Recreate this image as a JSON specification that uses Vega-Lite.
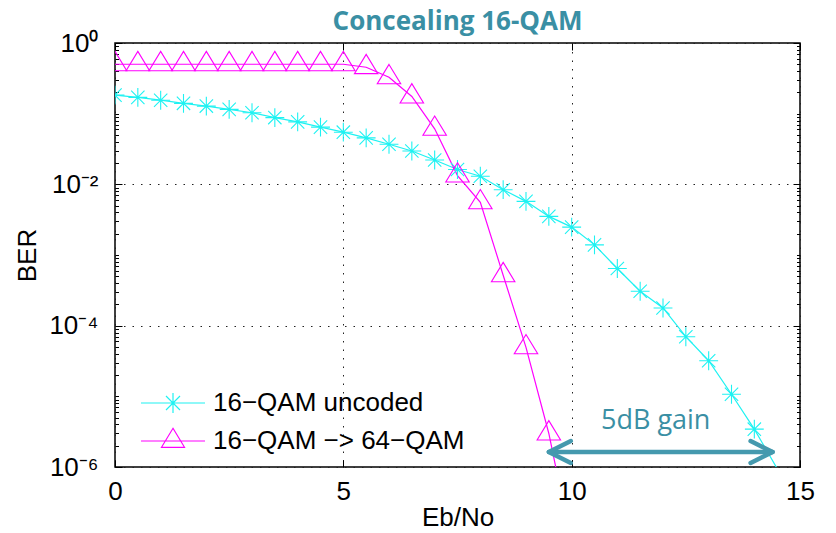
{
  "$schema": "https://vega.github.io/schema/vega-lite/v6.json",
  "width": 685,
  "height": 424,
  "autosize": {"type": "none"},
  "padding": {"left": 115, "top": 43, "right": 36, "bottom": 66},
  "background": "white",
  "title": {"text": "Concealing 16-QAM", "font": "Open Sans", "fontWeight": "bold", "fontSize": 26, "color": "#3a8fa4", "anchor": "middle", "offset": -5},
  "config": {
    "view": {"stroke": "black", "strokeWidth": 1.5},
    "font": "Liberation Sans",
    "legend": {"orient": "none", "legendX": 45, "legendY": 347, "padding": 0, "rowPadding": 9, "labelFont": "Liberation Sans", "labelFontSize": 26, "labelColor": "black", "labelOffset": 27, "labelLimit": 500, "symbolSize": 400, "symbolStrokeWidth": 1.2}
  },
  "datasets": {
    "ber": [
      {"ebno": 0, "ber": 0.183, "series": "16−QAM uncoded"},
      {"ebno": 0.5, "ber": 0.170, "series": "16−QAM uncoded"},
      {"ebno": 1, "ber": 0.155, "series": "16−QAM uncoded"},
      {"ebno": 1.5, "ber": 0.140, "series": "16−QAM uncoded"},
      {"ebno": 2, "ber": 0.128, "series": "16−QAM uncoded"},
      {"ebno": 2.5, "ber": 0.115, "series": "16−QAM uncoded"},
      {"ebno": 3, "ber": 0.103, "series": "16−QAM uncoded"},
      {"ebno": 3.5, "ber": 0.088, "series": "16−QAM uncoded"},
      {"ebno": 4, "ber": 0.0765, "series": "16−QAM uncoded"},
      {"ebno": 4.5, "ber": 0.0645, "series": "16−QAM uncoded"},
      {"ebno": 5, "ber": 0.0547, "series": "16−QAM uncoded"},
      {"ebno": 5.5, "ber": 0.0454, "series": "16−QAM uncoded"},
      {"ebno": 6, "ber": 0.0369, "series": "16−QAM uncoded"},
      {"ebno": 6.5, "ber": 0.0296, "series": "16−QAM uncoded"},
      {"ebno": 7, "ber": 0.0221, "series": "16−QAM uncoded"},
      {"ebno": 7.5, "ber": 0.0162, "series": "16−QAM uncoded"},
      {"ebno": 8, "ber": 0.0130, "series": "16−QAM uncoded"},
      {"ebno": 8.5, "ber": 0.0084, "series": "16−QAM uncoded"},
      {"ebno": 9, "ber": 0.00574, "series": "16−QAM uncoded"},
      {"ebno": 9.5, "ber": 0.00352, "series": "16−QAM uncoded"},
      {"ebno": 10, "ber": 0.00248, "series": "16−QAM uncoded"},
      {"ebno": 10.5, "ber": 0.00139, "series": "16−QAM uncoded"},
      {"ebno": 11, "ber": 0.000644, "series": "16−QAM uncoded"},
      {"ebno": 11.5, "ber": 0.000307, "series": "16−QAM uncoded"},
      {"ebno": 12, "ber": 0.000178, "series": "16−QAM uncoded"},
      {"ebno": 12.5, "ber": 0.0000698, "series": "16−QAM uncoded"},
      {"ebno": 13, "ber": 0.0000319, "series": "16−QAM uncoded"},
      {"ebno": 13.5, "ber": 0.0000107, "series": "16−QAM uncoded"},
      {"ebno": 14, "ber": 0.00000343, "series": "16−QAM uncoded"},
      {"ebno": 14.5, "ber": 0.00000095, "series": "16−QAM uncoded"},
      {"ebno": 0, "ber": 0.5, "series": "16−QAM −> 64−QAM"},
      {"ebno": 0.5, "ber": 0.5, "series": "16−QAM −> 64−QAM"},
      {"ebno": 1, "ber": 0.5, "series": "16−QAM −> 64−QAM"},
      {"ebno": 1.5, "ber": 0.5, "series": "16−QAM −> 64−QAM"},
      {"ebno": 2, "ber": 0.5, "series": "16−QAM −> 64−QAM"},
      {"ebno": 2.5, "ber": 0.5, "series": "16−QAM −> 64−QAM"},
      {"ebno": 3, "ber": 0.5, "series": "16−QAM −> 64−QAM"},
      {"ebno": 3.5, "ber": 0.5, "series": "16−QAM −> 64−QAM"},
      {"ebno": 4, "ber": 0.5, "series": "16−QAM −> 64−QAM"},
      {"ebno": 4.5, "ber": 0.5, "series": "16−QAM −> 64−QAM"},
      {"ebno": 5, "ber": 0.5, "series": "16−QAM −> 64−QAM"},
      {"ebno": 5.5, "ber": 0.454, "series": "16−QAM −> 64−QAM"},
      {"ebno": 6, "ber": 0.327, "series": "16−QAM −> 64−QAM"},
      {"ebno": 6.5, "ber": 0.175, "series": "16−QAM −> 64−QAM"},
      {"ebno": 7, "ber": 0.061, "series": "16−QAM −> 64−QAM"},
      {"ebno": 7.5, "ber": 0.0133, "series": "16−QAM −> 64−QAM"},
      {"ebno": 8, "ber": 0.00556, "series": "16−QAM −> 64−QAM"},
      {"ebno": 8.5, "ber": 0.000517, "series": "16−QAM −> 64−QAM"},
      {"ebno": 9, "ber": 0.0000493, "series": "16−QAM −> 64−QAM"},
      {"ebno": 9.5, "ber": 0.00000298, "series": "16−QAM −> 64−QAM"},
      {"ebno": 10, "ber": 0.00000008, "series": "16−QAM −> 64−QAM"}
    ],
    "arrow": [
      {"ebno": 9.5, "ber": 0.00000163, "end": "left"},
      {"ebno": 14.4, "ber": 0.00000163, "end": "right"}
    ],
    "note": [
      {"ebno": 11.84, "ber": 0.00000449, "label": "5dB gain"}
    ]
  },
  "layer": [
    {
      "data": {"name": "ber"},
      "mark": {"type": "line", "clip": true, "strokeWidth": 1.2},
      "encoding": {
        "x": {"field": "ebno", "type": "quantitative",
          "scale": {"domain": [0, 15], "nice": false, "zero": false},
          "axis": {"orient": "bottom", "values": [0, 5, 10, 15], "format": "d", "title": "Eb/No",
            "titleFont": "Liberation Sans", "titleFontSize": 26, "titleFontWeight": "normal", "titleColor": "black", "titlePadding": 0,
            "labelFont": "Liberation Sans", "labelFontSize": 26, "labelColor": "black", "labelPadding": 18, "labelFlush": false, "labelOverlap": false,
            "tickSize": -7, "tickColor": "black", "tickWidth": 1, "domain": false,
            "grid": true, "gridColor": "#222222", "gridDash": [1.5, 7], "gridWidth": 1, "gridOpacity": 1}},
        "y": {"field": "ber", "type": "quantitative",
          "scale": {"type": "log", "domain": [0.000001, 1], "nice": false},
          "axis": {"orient": "left", "values": [1, 0.01, 0.0001, 0.000001],
            "labelExpr": "datum.value == 1 ? '10⁰' : datum.value == 0.01 ? '10⁻²' : datum.value == 0.0001 ? '10⁻⁴' : datum.value == 0.000001 ? '10⁻⁶' : ''",
            "title": "BER", "titleFont": "Liberation Sans", "titleFontSize": 26, "titleFontWeight": "normal", "titleColor": "black", "titlePadding": 8,
            "labelFont": "Liberation Sans", "labelFontSize": 26, "labelColor": "black", "labelPadding": 24, "labelOverlap": false, "labelFlush": false,
            "tickSize": -7, "tickColor": "black", "tickWidth": 1, "domain": false,
            "grid": true, "gridColor": "#222222", "gridDash": [1.5, 7], "gridWidth": 1, "gridOpacity": 1}},
        "color": {"field": "series", "type": "nominal",
          "scale": {"domain": ["16−QAM uncoded", "16−QAM −> 64−QAM"], "range": ["#1ef2f2", "#ff00ff"]}, "legend": null}
      }
    },
    {
      "data": {"name": "ber"},
      "transform": [{"filter": "datum.ber >= 0.000001"}],
      "mark": {"type": "point", "filled": false, "clip": true, "strokeWidth": 1.1, "size": 529, "opacity": 1},
      "encoding": {
        "x": {"field": "ebno", "type": "quantitative",
          "axis": {"orient": "top", "values": [0, 5, 10, 15], "labels": false, "title": null, "tickSize": -7, "tickColor": "black", "domain": false, "grid": false}},
        "y": {"field": "ber", "type": "quantitative",
          "axis": {"orient": "right", "values": [1, 0.01, 0.0001, 0.000001], "labels": false, "title": null, "tickSize": -7, "tickColor": "black", "domain": false, "grid": false}},
        "color": {"field": "series", "type": "nominal",
          "scale": {"domain": ["16−QAM uncoded", "16−QAM −> 64−QAM"], "range": ["#1ef2f2", "#ff00ff"]}, "legend": null},
        "shape": {"field": "series", "type": "nominal",
          "scale": {"domain": ["16−QAM uncoded", "16−QAM −> 64−QAM"],
            "range": ["M-0.82,0L0.82,0M0,-0.82L0,0.82M-0.58,-0.58L0.58,0.58M-0.58,0.58L0.58,-0.58", "M0,-1.12L1.02,0.56L-1.02,0.56Z"]},
          "legend": null}
      }
    },
    {
      "data": {"name": "ber"},
      "transform": [{"filter": "false"}],
      "mark": {"type": "point", "filled": false, "strokeWidth": 1.2, "opacity": 1},
      "encoding": {
        "shape": {"field": "series", "type": "nominal",
          "scale": {"domain": ["16−QAM uncoded", "16−QAM −> 64−QAM"],
            "range": ["M-3.2,0L3.2,0M0,-1L0,1M-0.7,-0.7L0.7,0.7M-0.7,0.7L0.7,-0.7", "M-3.2,0L3.2,0M0,-1.27L1.15,0.63L-1.15,0.63Z"]},
          "legend": {"title": null}},
        "color": {"field": "series", "type": "nominal",
          "scale": {"domain": ["16−QAM uncoded", "16−QAM −> 64−QAM"], "range": ["#1ef2f2", "#ff00ff"]},
          "legend": {"title": null}}
      }
    },
    {
      "data": {"name": "arrow"},
      "mark": {"type": "line", "color": "#4599ae", "strokeWidth": 4.5, "strokeCap": "round"},
      "encoding": {
        "x": {"field": "ebno", "type": "quantitative", "axis": null},
        "y": {"field": "ber", "type": "quantitative",
          "axis": {"orient": "left", "values": [0.9,0.8,0.7,0.6,0.5,0.4,0.3,0.2,0.1,0.09,0.08,0.07,0.06,0.05,0.04,0.03,0.02,0.009,0.008,0.007,0.006,0.005,0.004,0.003,0.002,0.001,0.0009,0.0008,0.0007,0.0006,0.0005,0.0004,0.0003,0.0002,0.00009,0.00008,0.00007,0.00006,0.00005,0.00004,0.00003,0.00002,0.00001,0.000009,0.000008,0.000007,0.000006,0.000005,0.000004,0.000003,0.000002],
            "labels": false, "title": null, "tickSize": -3.5, "tickColor": "black", "domain": false, "grid": false}}
      }
    },
    {
      "data": {"name": "arrow"},
      "mark": {"type": "point", "filled": false, "color": "#4599ae", "strokeWidth": 4.5, "strokeCap": "round", "strokeJoin": "round", "size": 484, "opacity": 1},
      "encoding": {
        "x": {"field": "ebno", "type": "quantitative", "axis": null},
        "y": {"field": "ber", "type": "quantitative",
          "axis": {"orient": "right", "values": [0.9,0.8,0.7,0.6,0.5,0.4,0.3,0.2,0.1,0.09,0.08,0.07,0.06,0.05,0.04,0.03,0.02,0.009,0.008,0.007,0.006,0.005,0.004,0.003,0.002,0.001,0.0009,0.0008,0.0007,0.0006,0.0005,0.0004,0.0003,0.0002,0.00009,0.00008,0.00007,0.00006,0.00005,0.00004,0.00003,0.00002,0.00001,0.000009,0.000008,0.000007,0.000006,0.000005,0.000004,0.000003,0.000002],
            "labels": false, "title": null, "tickSize": -3.5, "tickColor": "black", "domain": false, "grid": false}},
        "shape": {"field": "end", "type": "nominal",
          "scale": {"domain": ["left", "right"], "range": ["M2,-1L0,0L2,1", "M-2,-1L0,0L-2,1"]}, "legend": null}
      }
    },
    {
      "data": {"name": "note"},
      "mark": {"type": "text", "font": "Open Sans", "fontSize": 27, "color": "#3a8fa4", "align": "center", "baseline": "middle"},
      "encoding": {
        "x": {"field": "ebno", "type": "quantitative", "axis": null},
        "y": {"field": "ber", "type": "quantitative", "axis": null},
        "text": {"field": "label"}
      }
    }
  ],
  "resolve": {
    "scale": {"shape": "independent", "color": "independent"},
    "axis": {"x": "independent", "y": "independent"}
  }
}
